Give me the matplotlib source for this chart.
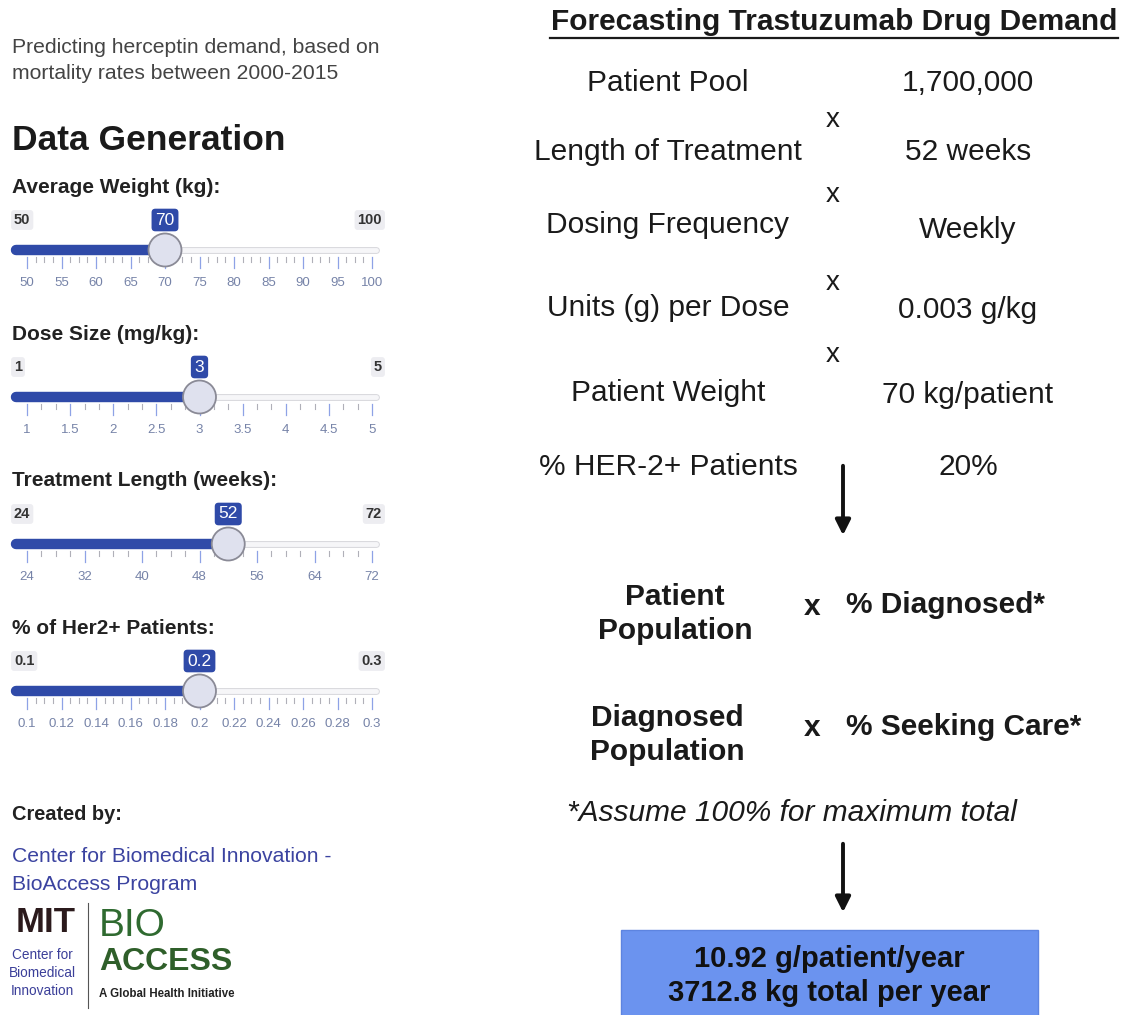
import matplotlib.pyplot as plt
from matplotlib.patches import Rectangle, Circle

plt.rcParams['font.family'] = ['Liberation Sans', 'DejaVu Sans']

# slider inputs (left panel)
slider_names = ['Average Weight (kg):', 'Dose Size (mg/kg):',
                'Treatment Length (weeks):', '% of Her2+ Patients:']
slider_min = [50, 1, 24, 0.1]
slider_max = [100, 5, 72, 0.3]
slider_val = [70, 3, 52, 0.2]
slider_ticks = [
    ['50', '55', '60', '65', '70', '75', '80', '85', '90', '95', '100'],
    ['1', '1.5', '2', '2.5', '3', '3.5', '4', '4.5', '5'],
    ['24', '32', '40', '48', '56', '64', '72'],
    ['0.1', '0.12', '0.14', '0.16', '0.18', '0.2', '0.22', '0.24', '0.26', '0.28', '0.3'],
]
slider_minor = [3, 2, 3, 3]

# forecast factors (right panel)
factor_names = ['Patient Pool', 'Length of Treatment', 'Dosing Frequency',
                'Units (g) per Dose', 'Patient Weight', '% HER-2+ Patients']
factor_values = ['1,700,000', '52 weeks', 'Weekly', '0.003 g/kg', '70 kg/patient', '20%']
name_y = [83, 152, 225, 308, 393, 467]
value_y = [83, 152, 230, 310, 395, 467]
x_y = [120, 195, 283, 355]

result_lines = ['10.92 g/patient/year', '3712.8 kg total per year']

fig = plt.figure(figsize=(11.21, 10.15), dpi=100)
ax = fig.add_axes([0, 0, 1, 1])
ax.set_xlim(0, 1121)
ax.set_ylim(1015, 0)
ax.axis('off')

BLUE = '#2f4aa8'
GREY_TXT = '#444444'
INK = '#1a1a1a'

# ---------- left panel ----------
ax.text(12, 47, 'Predicting herceptin demand, based on', fontsize=15.2, color=GREY_TXT, va='center')
ax.text(12, 73, 'mortality rates between 2000-2015', fontsize=15.2, color=GREY_TXT, va='center')
ax.text(12, 140, 'Data Generation', fontsize=25.5, fontweight='bold', color=INK, va='center')

x0, x1 = 27, 372
for i in range(len(slider_names)):
    top = 187 + 147 * i
    lo, hi, v = slider_min[i], slider_max[i], slider_val[i]
    def px(val):
        return x0 + (val - lo) / (hi - lo) * (x1 - x0)
    ax.text(12, top, slider_names[i], fontsize=15, fontweight='bold', color='#222222', va='center')

    by = top + 33
    # min / max badges
    for lab, xx, ha in [(str(lo), 14, 'left'), (str(hi), 382, 'right')]:
        ax.text(xx, by, lab, fontsize=10.5, fontweight='bold', color='#333333', ha=ha, va='center',
                bbox=dict(boxstyle='round,pad=0.2', fc='#ededf1', ec='none'))
    hx = px(v)
    ax.text(hx, by, str(v), fontsize=12.5, color='white', ha='center', va='center',
            bbox=dict(boxstyle='round,pad=0.22', fc=BLUE, ec='none'))

    ty = top + 63
    # track
    ax.plot([14, 376], [ty, ty], color='#d9d9de', lw=5, solid_capstyle='round', zorder=1)
    ax.plot([14, 376], [ty, ty], color='#f6f6f8', lw=3.5, solid_capstyle='round', zorder=1)
    ax.plot([16, hx], [ty, ty], color=BLUE, lw=7.5, solid_capstyle='round', zorder=2)

    # grid ticks
    n = len(slider_ticks[i])
    step = (x1 - x0) / (n - 1)
    for k, lab in enumerate(slider_ticks[i]):
        tx = x0 + k * step
        ax.plot([tx, tx], [ty + 7, ty + 18], color='#8ea2e6', lw=0.9, zorder=1)
        ax.text(tx, ty + 33, lab, fontsize=9.5, color='#7683a8', ha='center', va='center')
        if k < n - 1:
            m = slider_minor[i]
            for j in range(1, m + 1):
                mx = tx + j * step / (m + 1)
                ax.plot([mx, mx], [ty + 7, ty + 12], color='#b0b0b8', lw=0.8, zorder=1)

    ax.add_patch(Circle((hx, ty), 16.5, fc='#dfe1ee', ec='#8a8a96', lw=1.3, zorder=3))

# created by + logo
ax.text(12, 815, 'Created by:', fontsize=14.4, fontweight='bold', color='#222222', va='center')
ax.text(12, 856, 'Center for Biomedical Innovation -', fontsize=15.2, color='#3b43a0', va='center')
ax.text(12, 884, 'BioAccess Program', fontsize=15.2, color='#3b43a0', va='center')

ax.text(46, 922, 'MIT', fontsize=25, fontweight='bold', color='#2b1a1c', ha='center', va='center')
for lab, yy in [('Center for', 955), ('Biomedical', 973), ('Innovation', 991)]:
    ax.text(42, yy, lab, fontsize=9.8, color='#3b3f99', ha='center', va='center')
ax.plot([88, 88], [903, 1008], color='#555555', lw=0.8)
ax.text(99, 926, 'BIO', fontsize=28, fontweight='light', color='#2f6a30', va='center')
ax.text(99, 962, 'ACCESS', fontsize=23, fontweight='bold', color='#2f5f2a', va='center')
ax.text(99, 994, 'A Global Health Initiative', fontsize=8.3, fontweight='bold', color='#222222', va='center')

# ---------- right panel ----------
ax.text(834, 22, 'Forecasting Trastuzumab Drug Demand', fontsize=21.5, fontweight='bold',
        color=INK, ha='center', va='center')
ax.plot([550, 1118], [38, 38], color=INK, lw=1.6)

for name, ny, val, vy in zip(factor_names, name_y, factor_values, value_y):
    ax.text(668, ny, name, fontsize=21.5, color=INK, ha='center', va='center')
    ax.text(968, vy, val, fontsize=21.5, color=INK, ha='center', va='center')
for yy in x_y:
    ax.text(833, yy, 'x', fontsize=20, color=INK, ha='center', va='center')

ax.annotate('', xy=(843, 538), xytext=(843, 463),
            arrowprops=dict(arrowstyle='-|>,head_width=0.45,head_length=0.9', color='#111111', lw=2.8))

ax.text(675, 597, 'Patient', fontsize=21.5, fontweight='bold', color=INK, ha='center', va='center')
ax.text(675, 631, 'Population', fontsize=21.5, fontweight='bold', color=INK, ha='center', va='center')
ax.text(812, 607, 'x', fontsize=21.5, fontweight='bold', color=INK, ha='center', va='center')
ax.text(846, 605, '% Diagnosed*', fontsize=21.5, fontweight='bold', color=INK, va='center')

ax.text(667, 718, 'Diagnosed', fontsize=21.5, fontweight='bold', color=INK, ha='center', va='center')
ax.text(667, 752, 'Population', fontsize=21.5, fontweight='bold', color=INK, ha='center', va='center')
ax.text(812, 728, 'x', fontsize=21.5, fontweight='bold', color=INK, ha='center', va='center')
ax.text(846, 727, '% Seeking Care*', fontsize=21.5, fontweight='bold', color=INK, va='center')

ax.text(792, 813, '*Assume 100% for maximum total', fontsize=21.5, fontstyle='italic',
        color=INK, ha='center', va='center')

ax.annotate('', xy=(843, 915), xytext=(843, 841),
            arrowprops=dict(arrowstyle='-|>,head_width=0.45,head_length=0.9', color='#111111', lw=2.8))

ax.add_patch(Rectangle((621, 930), 417, 90, fc='#6b93ef', ec='#5d84e0', lw=1))
ax.text(829, 959, result_lines[0], fontsize=21, fontweight='bold', color='#111111', ha='center', va='center')
ax.text(829, 993, result_lines[1], fontsize=21, fontweight='bold', color='#111111', ha='center', va='center')

fig.savefig('out.png', dpi=100)
